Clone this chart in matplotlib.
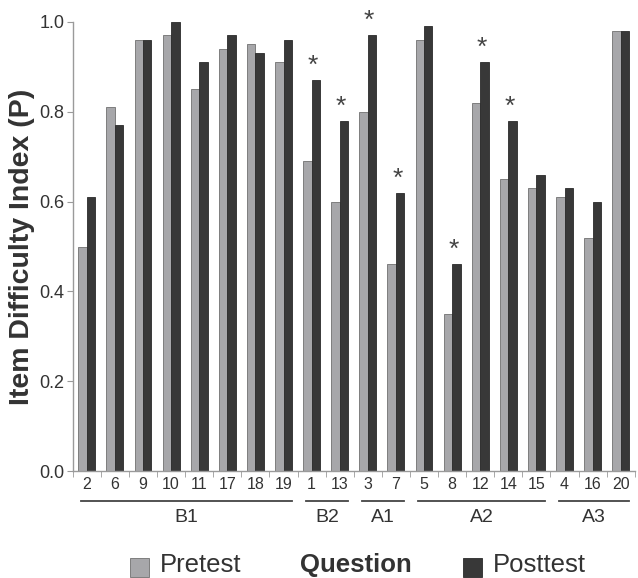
import numpy as np
import matplotlib
matplotlib.use("Agg")
from matplotlib import pyplot as plt
from matplotlib.patches import Rectangle

plt.rcParams['font.family'] = ['Liberation Sans', 'DejaVu Sans']

questions = ['2', '6', '9', '10', '11', '17', '18', '19', '1', '13', '3', '7',
             '5', '8', '12', '14', '15', '4', '16', '20']
pretest = [0.50, 0.81, 0.96, 0.97, 0.85, 0.94, 0.95, 0.91, 0.69, 0.60, 0.80, 0.46,
           0.96, 0.35, 0.82, 0.65, 0.63, 0.61, 0.52, 0.98]
posttest = [0.61, 0.77, 0.96, 1.00, 0.91, 0.97, 0.93, 0.96, 0.87, 0.78, 0.97, 0.62,
            0.99, 0.46, 0.91, 0.78, 0.66, 0.63, 0.60, 0.98]
significant = ['1', '13', '3', '7', '8', '12', '14']
groups = ['B1', 'B2', 'A1', 'A2', 'A3']
group_sizes = [8, 2, 2, 5, 3]

pre_col = '#a7a7aa'
post_col = '#383838'
axis_col = '#9a9a9a'
txt_col = '#333333'

fig = plt.figure(figsize=(6.38, 5.78), dpi=100)
ax = fig.add_axes([0.114, 0.185, 0.881, 0.777])

x = np.arange(len(questions))
w = 0.3
ax.bar(x - w / 2, pretest, w, color=pre_col, edgecolor='#707070', linewidth=0.6)
ax.bar(x + w / 2, posttest, w, color=post_col, edgecolor='#2a2a2a', linewidth=0.6)

for i, q in enumerate(questions):
    if q in significant:
        ax.text(x[i] + 0.05, posttest[i] + 0.005, '*', ha='center', va='bottom',
                fontsize=19, color='#444444')

ax.set_xlim(-0.5, len(questions) - 0.5)
ax.set_ylim(0, 1.0)
ax.set_yticks([0.0, 0.2, 0.4, 0.6, 0.8, 1.0])
ax.set_yticklabels(['0.0', '0.2', '0.4', '0.6', '0.8', '1.0'], fontsize=13, color=txt_col)
ax.set_xticks(x)
ax.set_xticklabels(questions, fontsize=11.5, color=txt_col)
ax.tick_params(axis='x', length=0, pad=4)
ax.set_xticks(np.arange(-0.5, len(questions)), minor=True)
ax.tick_params(axis='x', which='minor', length=4, color=axis_col)
ax.tick_params(axis='y', length=4, color=axis_col, pad=2)
for s in ['top', 'right']:
    ax.spines[s].set_visible(False)
for s in ['left', 'bottom']:
    ax.spines[s].set_color(axis_col)
    ax.spines[s].set_linewidth(1.0)

ax.set_ylabel('Item Difficulty Index (P)', fontsize=20.5, fontweight='bold',
              color=txt_col, labelpad=3)

# group brackets under the tick labels
trans = ax.get_xaxis_transform()
start = 0
for g, n in zip(groups, group_sizes):
    a = start - 0.2
    b = start + n - 1 + 0.3
    ax.plot([a, b], [-0.066, -0.066], transform=trans, color='#444444',
            linewidth=1.3, clip_on=False)
    ax.text((a + b) / 2, -0.085, g, transform=trans, ha='center', va='top',
            fontsize=14, color=txt_col)
    start += n

# legend row
fig.patches.append(Rectangle((130 / 638, 1 - 577 / 578), 19 / 638, 19 / 578,
                             transform=fig.transFigure, facecolor=pre_col,
                             edgecolor='#707070', linewidth=0.6))
fig.text(160 / 638, 1 - 565 / 578, 'Pretest', fontsize=18.5, color=txt_col,
         va='center', ha='left')
fig.text(356 / 638, 1 - 565 / 578, 'Question', fontsize=18.5, fontweight='bold',
         color=txt_col, va='center', ha='center')
fig.patches.append(Rectangle((463 / 638, 1 - 577 / 578), 19 / 638, 19 / 578,
                             transform=fig.transFigure, facecolor=post_col,
                             edgecolor='#2a2a2a', linewidth=0.6))
fig.text(493 / 638, 1 - 565 / 578, 'Posttest', fontsize=18.5, color=txt_col,
         va='center', ha='left')

fig.savefig('out.png', dpi=100)
